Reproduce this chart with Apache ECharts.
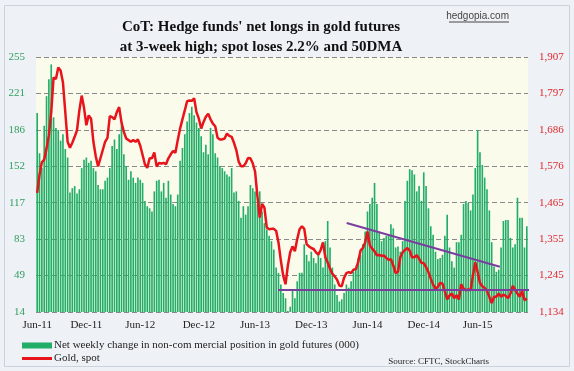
<!DOCTYPE html>
<html>
<head>
<meta charset="utf-8">
<script src="https://cdn.jsdelivr.net/npm/echarts@6/dist/echarts.min.js"></script>
<style>
html,body{margin:0;padding:0;background:#ffffff;}
#chart{width:574px;height:371px;}
</style>
</head>
<body>
<div id="chart"></div>
<script>
// Net weekly change in non-commercial position in gold futures (000), weekly, Jun-2011 .. Jun-2015
const netChange = [
202,164,150,190,218,234,248,198,188,186,176,182,168,160,127,131,133,126,130,150,
158,160,155,157,150,147,134,130,130,138,141,150,171,177,168,182,191,163,152,139,
147,141,136,141,139,136,119,114,112,109,128,138,139,128,136,122,138,125,116,114,
125,157,169,182,194,202,208,200,193,188,180,165,172,163,188,182,164,160,152,150,
147,144,142,150,127,128,119,103,114,106,114,134,131,128,116,128,109,98,92,86,
81,73,56,51,40,32,27,15,19,34,27,43,51,51,78,68,62,71,65,60,
68,65,56,81,100,75,56,40,30,24,26,32,40,37,43,52,56,65,68,78,
90,109,116,122,136,116,90,81,84,86,87,97,93,75,76,71,81,119,138,149,
148,144,128,133,119,146,133,112,95,87,71,64,65,68,86,106,75,62,56,80,
80,87,116,119,117,110,125,150,186,165,153,141,130,110,80,57,52,54,75,100,
101,101,84,75,78,122,103,103,75,95
];
// Gold spot price, same weeks
const goldSpot = [
1495,1550,1588,1596,1630,1670,1740,1845,1840,1875,1866,1830,1740,1650,1632,1647,1665,1685,1745,1790,
1753,1700,1730,1720,1650,1606,1575,1600,1625,1650,1662,1728,1725,1718,1740,1755,1708,1680,1660,1655,
1650,1655,1650,1657,1638,1610,1581,1571,1600,1600,1618,1575,1586,1584,1586,1582,1600,1612,1622,1617,
1655,1690,1718,1745,1773,1775,1774,1782,1740,1720,1690,1710,1726,1735,1718,1705,1697,1662,1657,1657,
1660,1675,1668,1665,1647,1625,1590,1576,1576,1585,1601,1600,1585,1560,1485,1420,1462,1450,1390,1385,
1386,1386,1380,1345,1290,1245,1218,1275,1315,1333,1318,1355,1385,1394,1386,1340,1333,1328,1325,1315,
1308,1322,1345,1300,1284,1265,1250,1242,1232,1214,1212,1238,1252,1255,1252,1262,1264,1285,1320,1328,
1345,1378,1336,1326,1318,1306,1307,1304,1305,1298,1292,1294,1275,1252,1256,1300,1315,1322,1328,1320,
1300,1300,1306,1296,1283,1282,1270,1255,1235,1217,1205,1210,1222,1220,1197,1172,1184,1190,1176,1185,
1172,1218,1205,1200,1202,1200,1245,1285,1255,1222,1212,1207,1198,1180,1161,1180,1180,1190,1180,1187,
1183,1176,1190,1213,1202,1190,1180,1198,1170,1175
];
// Trend lines drawn on the chart (x in weeks from start, y in gold price)
const supportLine = [[103.3, 1201], [211.5, 1201]];
const resistanceLine = [[132.6, 1404], [198.0, 1271]];

const xTickLabels = ['Jun-11','Dec-11','Jun-12','Dec-12','Jun-13','Dec-13','Jun-14','Dec-14','Jun-15'];
const xTickIndex = [0, 21, 44, 69, 93, 117, 141, 165, 188];
const leftTicks = ['14','49','83','117','152','186','221','255'];
const rightTicks = ['1,134','1,245','1,355','1,465','1,576','1,686','1,797','1,907'];

const categories = netChange.map(function(_, i){ return 'W' + (i + 1); });

const leftMin = 14, leftMax = 255, leftStep = (leftMax - leftMin) / 7;
const rightMin = 1134, rightMax = 1907, rightStep = (rightMax - rightMin) / 7;

const serif = '"Liberation Serif", "Times New Roman", serif';
const barName = 'Net weekly change in non-com mercial position in gold futures (000)';
const goldName = 'Gold, spot';

const chart = echarts.init(document.getElementById('chart'), null, {renderer: 'canvas'});
chart.setOption({
  animation: false,
  backgroundColor: '#eef2f6',
  grid: {
    left: 36, right: 46, top: 57, bottom: 59,
    show: true, backgroundColor: '#fbfbec', borderWidth: 0
  },
  graphic: [
    {type: 'rect', shape: {x: 4.5, y: 5.5, width: 565, height: 361}, style: {fill: null, stroke: '#c9d3dd', lineWidth: 1}, silent: true},
    {type: 'text', x: 261, y: 27, style: {text: "CoT: Hedge funds' net longs in gold futures", font: 'bold 15px ' + serif, fill: '#111', textAlign: 'center', textVerticalAlign: 'middle'}},
    {type: 'text', x: 261, y: 47, style: {text: 'at 3-week high; spot loses 2.2% and 50DMA', font: 'bold 15px ' + serif, fill: '#111', textAlign: 'center', textVerticalAlign: 'middle'}},
    {type: 'text', x: 509, y: 16, style: {text: 'hedgopia.com', font: '10px "Liberation Sans", Arial, sans-serif', fill: '#444', textAlign: 'right', textVerticalAlign: 'middle'}},
    {type: 'line', shape: {x1: 449, y1: 22, x2: 509, y2: 22}, style: {stroke: '#444', lineWidth: 1}},
    {type: 'text', x: 489, y: 362, style: {text: 'Source: CFTC, StockCharts', font: '9px ' + serif, fill: '#222', textAlign: 'right', textVerticalAlign: 'middle'}}
  ],
  legend: [
    {
      left: 17, top: 335, itemWidth: 30, itemHeight: 6, itemGap: 0,
      textStyle: {fontFamily: serif, fontSize: 11, color: '#222', padding: [0,0,0,-3]},
      data: [{name: barName, icon: 'rect'}], selectedMode: false
    },
    {
      left: 17, top: 348, itemWidth: 30, itemHeight: 3, itemGap: 0,
      textStyle: {fontFamily: serif, fontSize: 11, color: '#222', padding: [0,0,0,-3]},
      data: [{name: goldName, icon: 'rect', itemStyle: {color: '#e8141c'}}], selectedMode: false
    }
  ],
  xAxis: [
    {
      type: 'category', data: categories, boundaryGap: true,
      axisLine: {show: false}, axisTick: {show: false},
      splitLine: {show: false},
      axisLabel: {
        interval: function(index){ return xTickIndex.indexOf(index) >= 0; },
        formatter: function(v, index){ const k = xTickIndex.indexOf(index); return k >= 0 ? xTickLabels[k] : ''; },
        fontFamily: serif, fontSize: 11, color: '#222', margin: 8
      }
    },
    {type: 'value', min: 0, max: netChange.length, show: false}
  ],
  yAxis: [
    {
      type: 'value', min: leftMin, max: leftMax, interval: leftStep, position: 'left',
      axisLine: {show: false}, axisTick: {show: false},
      axisLabel: {
        formatter: function(v){ return leftTicks[Math.round((v - leftMin) / leftStep)] || ''; },
        fontFamily: serif, fontSize: 11, color: '#2f9e5e', margin: 11
      },
      splitLine: {show: true, lineStyle: {color: '#8a8a8a', type: [5, 3], width: 1}}
    },
    {
      type: 'value', min: rightMin, max: rightMax, interval: rightStep, position: 'right',
      axisLine: {show: false}, axisTick: {show: false},
      axisLabel: {
        formatter: function(v){ return rightTicks[Math.round((v - rightMin) / rightStep)] || ''; },
        fontFamily: serif, fontSize: 11, color: '#e0262d', margin: 11
      },
      splitLine: {show: false}
    }
  ],
  series: [
    {
      name: barName,
      type: 'bar', data: netChange, xAxisIndex: 0, yAxisIndex: 0,
      barCategoryGap: '30%',
      itemStyle: {color: '#22ad68'}
    },
    {
      name: goldName, type: 'line', data: goldSpot, xAxisIndex: 0, yAxisIndex: 1,
      symbol: 'none', lineStyle: {color: '#e8141c', width: 2.5}, itemStyle: {color: '#e8141c'}, z: 5
    },
    {
      name: 'support', type: 'line', data: supportLine, xAxisIndex: 1, yAxisIndex: 1,
      symbol: 'none', clip: false, lineStyle: {color: '#7a3f9d', width: 2}, z: 6
    },
    {
      name: 'resistance', type: 'line', data: resistanceLine, xAxisIndex: 1, yAxisIndex: 1,
      symbol: 'none', clip: false, lineStyle: {color: '#7a3f9d', width: 2}, z: 6
    }
  ]
});
</script>
</body>
</html>
